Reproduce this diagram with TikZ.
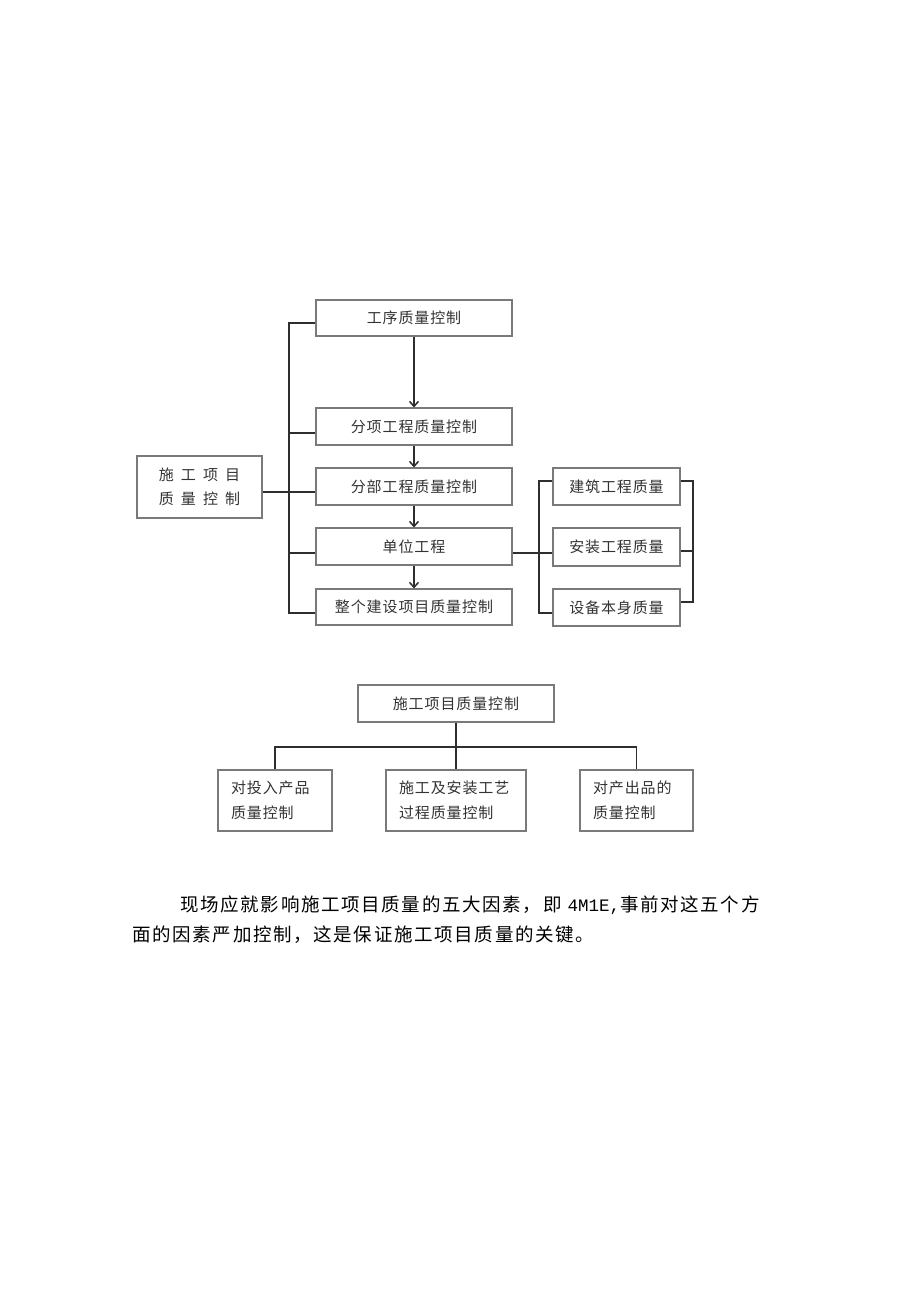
\documentclass[tikz,border=0pt]{standalone}
\usepackage{fontspec}
\usetikzlibrary{arrows.meta}
\newfontfamily\cjk[LetterSpace=6]{Noto Sans CJK SC}
\newfontfamily\cjkw[LetterSpace=47]{Noto Sans CJK SC}
\newfontfamily\cjkp[LetterSpace=9]{Noto Sans CJK SC}
\newfontfamily\monof{Liberation Mono}
\definecolor{boxgray}{HTML}{7A7A7A}
\definecolor{linegray}{HTML}{2E2E2E}
\definecolor{textgray}{HTML}{333333}
\tikzset{
  box/.style={draw=boxgray, line width=1.1pt, inner sep=0pt, text=textgray,
    font=\cjk\fontsize{15}{25}\selectfont},
  conn/.style={draw=linegray, line width=1.6pt},
  arr/.style={conn, -{Straight Barb[length=5pt,width=9pt,line width=1.5pt]}}
}
\begin{document}
\begin{tikzpicture}[x=1pt,y=-1pt]
\useasboundingbox[fill=white] (0,0) rectangle (920,1301);
% top diagram
\node[box, minimum width=196pt, minimum height=36pt] (A) at (414,318) {工序质量控制};
\node[box, minimum width=196pt, minimum height=37pt] (B) at (414,426.5) {分项工程质量控制};
\node[box, minimum width=196pt, minimum height=37pt] (C) at (414,486.5) {分部工程质量控制};
\node[box, minimum width=196pt, minimum height=37pt] (D) at (414,546.5) {单位工程};
\node[box, minimum width=196pt, minimum height=36pt] (E) at (414,607) {整个建设项目质量控制};
\node[box, minimum width=125pt, minimum height=62pt, align=center,
  font=\cjkw\fontsize{15}{24}\selectfont] (L) at (199.5,487) {施工项目\\质量控制};
\node[box, minimum width=127pt, minimum height=37pt] (R1) at (616.5,486.5) {建筑工程质量};
\node[box, minimum width=127pt, minimum height=38pt] (R2) at (616.5,547) {安装工程质量};
\node[box, minimum width=127pt, minimum height=37pt] (R3) at (616.5,607.5) {设备本身质量};
\coordinate (bt) at (289,323);
\coordinate (bb) at (289,613);
\draw[conn] ([yshift=-5pt]A.west) -- (bt) -- (bb) -- ([yshift=-6pt]E.west);
\draw[conn] ([yshift=-6.5pt]B.west) -- ([yshift=-6.5pt]B.west -| bt);
\draw[conn] ([yshift=-5pt]L.east) -- ([yshift=-5.5pt]C.west);
\draw[conn] ([yshift=-6.5pt]D.west) -- ([yshift=-6.5pt]D.west -| bt);
\draw[arr] (A.south) -- (B.north);
\draw[arr] (B.south) -- (C.north);
\draw[arr] (C.south) -- (D.north);
\draw[arr] (D.south) -- (E.north);
% right group
\coordinate (rl) at (539,481);
\coordinate (rr) at (693,481);
\draw[conn] ([yshift=5.5pt]R1.west) -- ([yshift=5.5pt]R1.west -| rl) -- ([yshift=-5.5pt]R3.west -| rl) -- ([yshift=-5.5pt]R3.west);
\draw[conn] ([yshift=-6.5pt]D.east) -- ([yshift=-6pt]R2.west);
\draw[conn] ([yshift=5.5pt]R1.east) -- ([yshift=5.5pt]R1.east -| rr) -- ([yshift=5.5pt]R3.east -| rr) -- ([yshift=5.5pt]R3.east);
\draw[conn] ([yshift=-4pt]R2.east) -- ([yshift=-4pt]R2.east -| rr);
% bottom diagram
\node[box, minimum width=196pt, minimum height=37pt] (T) at (456,703.5) {施工项目质量控制};
\node[box, minimum width=114pt, minimum height=61pt, text width=88pt, align=left] (C1) at (275,800.5) {对投入产品\\质量控制};
\node[box, minimum width=140pt, minimum height=61pt, text width=114pt, align=left] (C2) at (456,800.5) {施工及安装工艺\\过程质量控制};
\node[box, minimum width=113pt, minimum height=61pt, text width=87pt, align=left] (C3) at (636.5,800.5) {对产出品的\\质量控制};
\coordinate (hb) at (456,747);
\draw[conn] (T.south) -- (hb);
\draw[conn] (C1.north) -- (C1.north |- hb) -- (C3.north |- hb) -- (C3.north);
\draw[conn] (hb) -- (C2.north);
% paragraph
\node[anchor=west, inner sep=0pt, text=black, font=\cjkp\fontsize{18.5}{20}\selectfont] (p1) at (180,905)
  {现场应就影响施工项目质量的五大因素，即\hspace{6pt}{\monof\fontsize{17.5}{20}\selectfont 4M1E,}事前对这五个方};
\node[anchor=west, inner sep=0pt, text=black, font=\cjkp\fontsize{18.5}{20}\selectfont] (p2) at (132,935)
  {面的因素严加控制，这是保证施工项目质量的关键。};
\end{tikzpicture}
\end{document}
